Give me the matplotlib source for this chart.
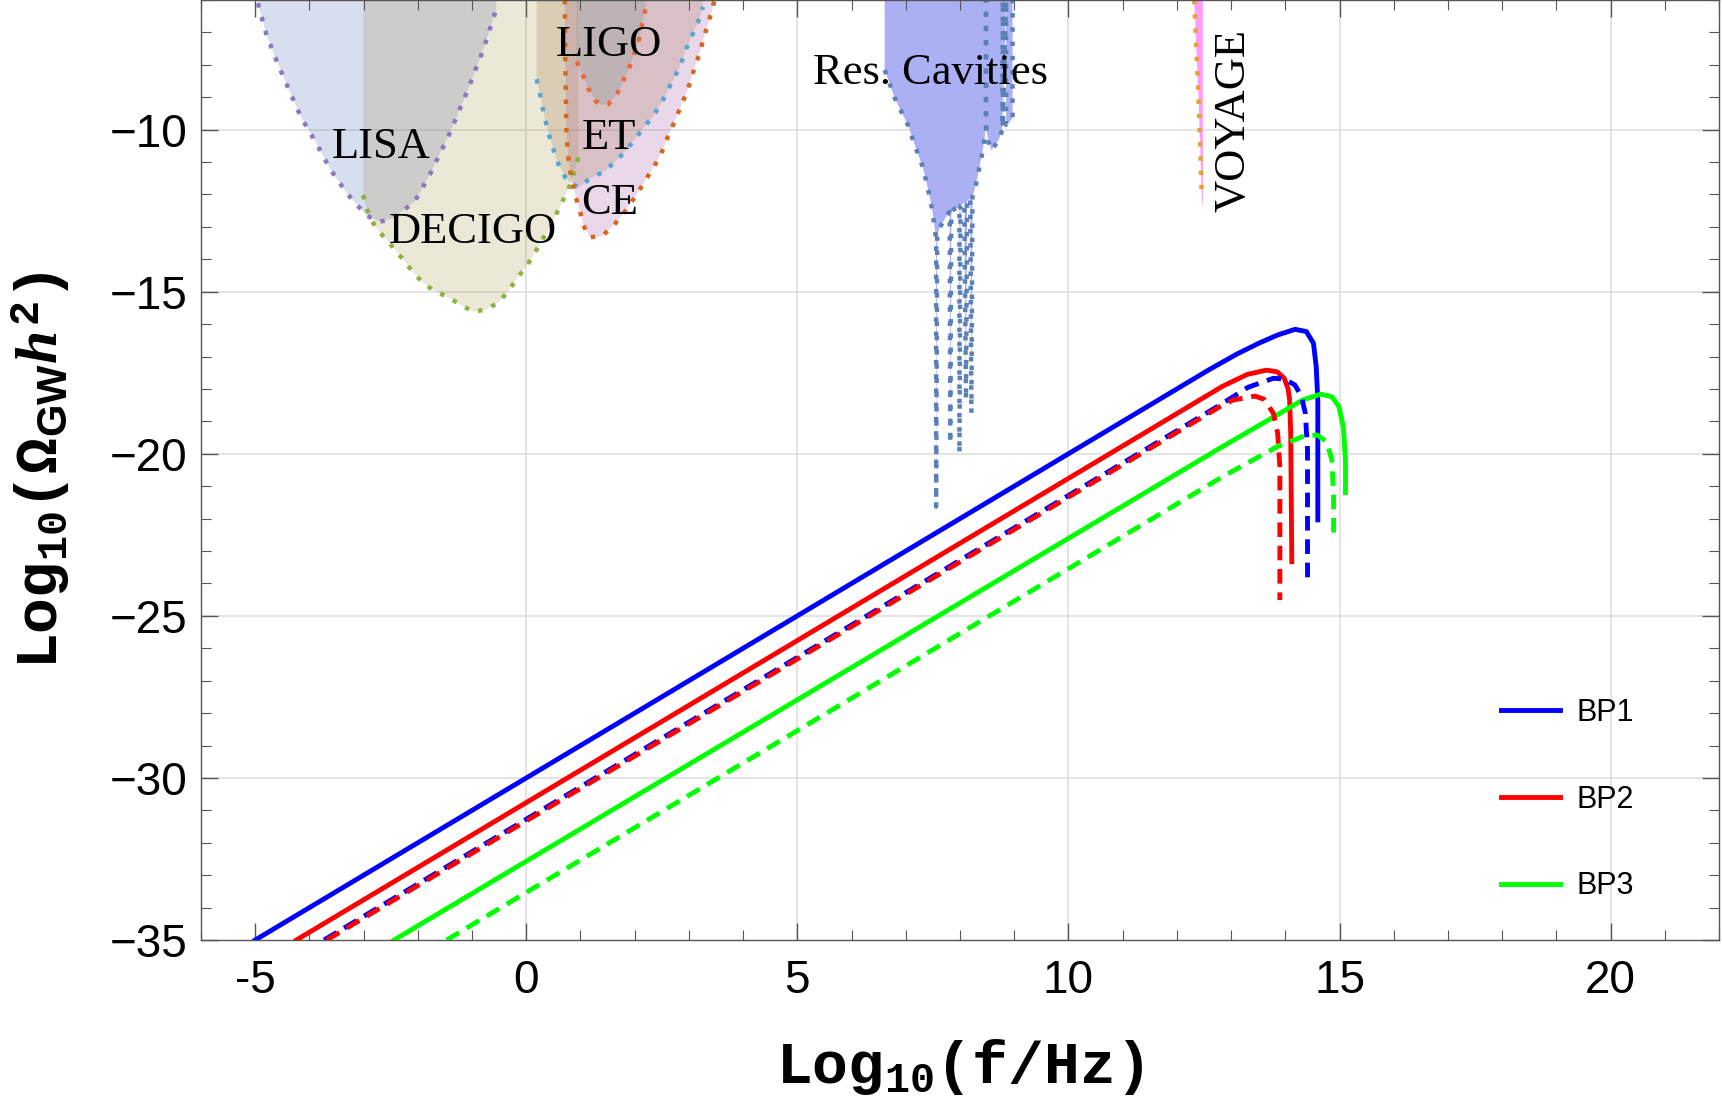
import numpy as np
import matplotlib
matplotlib.use('Agg')
import matplotlib.pyplot as plt
from matplotlib.lines import Line2D

plt.rcParams['mathtext.fontset'] = 'custom'
plt.rcParams['mathtext.rm'] = 'Liberation Mono:bold'
plt.rcParams['mathtext.bf'] = 'Liberation Mono:bold'
plt.rcParams['mathtext.it'] = 'Liberation Serif:italic:bold'
plt.rcParams['mathtext.sf'] = 'Liberation Sans:bold'

# ---- benchmark spectra, log10(f/Hz) vs log10(Omega h^2) ----
bp1_x = [-5.0, 12.6, 13.1, 13.51, 13.85, 14.18, 14.39, 14.52, 14.57, 14.60, 14.60]
bp1_y = [-35.0, -17.4, -16.93, -16.59, -16.34, -16.16, -16.23, -16.59, -17.31, -18.34, -22.04]
bp1d_x = [-3.73, 12.84, 13.31, 13.78, 13.98, 14.18, 14.30, 14.37, 14.41, 14.41]
bp1d_y = [-35.0, -18.45, -17.95, -17.67, -17.69, -17.88, -18.24, -18.75, -19.88, -23.98]

bp2_x = [-4.24, 12.84, 13.30, 13.65, 13.85, 13.98, 14.05, 14.08, 14.10, 14.12]
bp2_y = [-35.0, -17.92, -17.55, -17.42, -17.47, -17.67, -17.98, -18.34, -19.37, -23.33]
bp2d_x = [-3.68, 12.84, 13.04, 13.44, 13.61, 13.78, 13.86, 13.90, 13.90]
bp2d_y = [-35.0, -18.50, -18.34, -18.22, -18.32, -18.75, -19.37, -20.40, -24.51]

bp3_x = [-2.44, 12.84, 13.85, 14.32, 14.65, 14.86, 14.99, 15.07, 15.11, 15.11]
bp3_y = [-35.0, -19.78, -18.80, -18.34, -18.16, -18.24, -18.55, -19.17, -20.19, -21.20]
bp3d_x = [-1.47, 12.84, 13.85, 14.32, 14.59, 14.76, 14.86, 14.89, 14.89]
bp3d_y = [-35.0, -20.71, -19.78, -19.47, -19.42, -19.63, -20.19, -21.28, -22.56]

# ---- detector sensitivity curves ----
lisa_x = [-4.95, -4.80, -4.60, -4.38, -4.16, -3.88, -3.62, -3.31, -2.95, -2.70,
          -2.46, -2.06, -1.78, -1.42, -1.10, -0.80, -0.55]
lisa_y = [-6.10, -7.03, -7.90, -8.76, -9.60, -10.40, -11.21, -11.96, -12.65, -12.84,
          -12.74, -12.22, -11.39, -10.14, -8.86, -7.56, -6.26]

decigo_x = [-3.01, -2.93, -2.82, -2.65, -2.47, -2.29, -2.12, -1.93, -1.72, -1.47,
            -1.23, -0.98, -0.72, -0.50, -0.32, -0.15, 0.01, 0.16, 0.30, 0.45,
            0.56, 0.68, 0.80, 0.88, 0.96]
decigo_y = [-12.02, -12.50, -12.89, -13.27, -13.61, -13.97, -14.33, -14.69, -14.95, -15.15,
            -15.38, -15.62, -15.54, -15.31, -14.95, -14.54, -14.20, -13.79, -13.38, -12.99,
            -12.58, -12.17, -11.74, -11.33, -10.86]

et_x = [0.19, 0.25, 0.30, 0.36, 0.43, 0.51, 0.60, 0.73, 0.85, 0.96, 1.17, 1.42,
        1.63, 1.82, 2.00, 2.17, 2.34, 2.49, 2.61, 2.74, 2.86, 2.95, 3.06, 3.17, 3.26]
et_y = [-8.44, -8.88, -9.32, -9.77, -10.22, -10.66, -11.09, -11.50, -11.68, -11.78, -11.52, -11.30,
        -11.01, -10.68, -10.30, -9.93, -9.58, -9.19, -8.78, -8.37, -7.93, -7.51, -7.08, -6.67, -6.21]

ce_x = [0.71, 0.72, 0.74, 0.77, 0.82, 0.91, 0.99, 1.05, 1.17, 1.40, 1.62, 1.83, 2.09,
        2.25, 2.39, 2.51, 2.61, 2.72, 2.83, 2.94, 3.03, 3.11, 3.20, 3.27, 3.35, 3.43, 3.47]
ce_y = [-6.0, -8.0, -10.0, -10.8, -11.4, -12.07, -12.50, -12.94, -13.32, -13.28, -12.94, -12.50, -11.86,
        -11.42, -11.04, -10.65, -10.22, -9.81, -9.37, -8.93, -8.50, -8.06, -7.63, -7.18, -6.74, -6.29, -6.0]

ligo_x = [0.93, 1.04, 1.15, 1.28, 1.40, 1.51, 1.68, 1.80, 1.91, 2.00, 2.09, 2.14, 2.20]
ligo_y = [-7.90, -8.31, -8.75, -9.12, -9.24, -9.22, -8.88, -8.45, -8.04, -7.61, -7.16, -6.72, -6.26]

rc_x = [6.61, 6.70, 6.79, 6.92, 7.04, 7.13, 7.22, 7.31, 7.38, 7.44, 7.49, 7.53, 7.56,
        7.56, 7.58, 7.62, 7.72, 7.81, 7.82, 7.84, 7.90, 7.99, 7.99, 8.01, 8.08, 8.11,
        8.13, 8.19, 8.21, 8.23, 8.30, 8.36, 8.41, 8.45, 8.48, 8.48, 8.48, 8.52, 8.58,
        8.64, 8.72, 8.78, 8.79, 8.79, 8.85, 8.85, 8.92, 8.97, 8.97]
rc_y = [-8.16, -8.57, -9.00, -9.45, -9.86, -10.30, -10.73, -11.14, -11.61, -12.07, -12.50, -12.99, -13.41,
        -21.63, -13.30, -13.04, -12.75, -12.53, -19.68, -12.50, -12.45, -12.40, -19.99, -12.35, -12.25, -18.34,
        -12.20, -12.10, -18.75, -12.07, -11.66, -11.14, -10.73, -10.32, -9.91, -6.0, -9.91, -10.35, -10.63,
        -10.50, -10.30, -10.00, -6.0, -9.95, -6.0, -9.85, -9.75, -9.65, -6.0]

voy_x = [12.32, 12.36, 12.40, 12.43, 12.46]
voy_y = [-6.0, -7.5, -9.0, -10.5, -12.1]
voy_edge = 12.48
voy_low = -12.4

ytop = -6.0

fig = plt.figure(figsize=(17.22, 10.98), dpi=100)
ax = fig.add_axes([201 / 1722, 1 - 940 / 1098, 1518 / 1722, 940 / 1098])
ax.set_xlim(-6, 22)
ax.set_ylim(-35, -6)

dot = (0, (1.0, 2.2))
dot_lw = 3.2

# fills (semi transparent so overlaps darken)
ax.fill(lisa_x + [lisa_x[-1], lisa_x[0]], lisa_y + [ytop, ytop],
        color=(75 / 255, 105 / 255, 180 / 255), alpha=0.22, lw=0, zorder=1)
ax.fill([decigo_x[0]] + decigo_x + [decigo_x[-1]], [ytop] + decigo_y + [ytop],
        color=(160 / 255, 140 / 255, 60 / 255), alpha=0.2, lw=0, zorder=1)
ax.fill(ce_x, ce_y, color=(160 / 255, 80 / 255, 160 / 255), alpha=0.22, lw=0, zorder=1)
ax.fill([et_x[0]] + et_x + [et_x[-1]], [ytop] + et_y + [ytop],
        color=(147 / 255, 100 / 255, 47 / 255), alpha=0.2, lw=0, zorder=1)
ax.fill([ligo_x[0]] + ligo_x + [ligo_x[-1]], [ytop] + ligo_y + [ytop],
        color=(110 / 255, 140 / 255, 135 / 255), alpha=0.25, lw=0, zorder=1)
ax.fill([rc_x[0]] + rc_x + [rc_x[-1]], [ytop] + rc_y + [ytop],
        color='#abb0f4', lw=0, zorder=1)
ax.fill(voy_x + [voy_edge, voy_edge], voy_y + [voy_low, ytop],
        color='#ff9cff', lw=0, zorder=1)

# dotted outlines
ax.plot(lisa_x, lisa_y, color='#8c78be', lw=dot_lw, ls=dot, zorder=2)
ax.plot(decigo_x, decigo_y, color='#8db33a', lw=dot_lw, ls=dot, zorder=2)
ax.plot(et_x, et_y, color='#55a5d5', lw=dot_lw, ls=dot, zorder=2)
ax.plot(ce_x, ce_y, color='#d2691e', lw=dot_lw, ls=dot, zorder=2)
ax.plot(ligo_x, ligo_y, color='#f0643c', lw=dot_lw, ls=dot, zorder=2)
ax.plot(rc_x, rc_y, color='#5b80b5', lw=dot_lw, ls=dot, zorder=2)
ax.plot(voy_x, voy_y, color='#e8a030', lw=dot_lw, ls=dot, zorder=2)

# labels of the detectors
lab = dict(fontsize=32, family='Liberation Serif', ha='center', va='center', zorder=5)
ax.text(-2.67, -10.55, 'LISA', **lab)
ax.text(-0.99, -13.17, 'DECIGO', **lab)
ax.text(1.53, -7.38, 'LIGO', **lab)
ax.text(1.52, -10.27, 'ET', **lab)
ax.text(1.54, -12.27, 'CE', **lab)
ax.text(7.45, -8.24, 'Res. Cavities', **lab)
ax.text(13.04, -9.73, 'VOYAGE', rotation=90, **lab)

# benchmark curves
dash = (0, (3.0, 1.8))
lw = 3.5
ax.plot(bp1_x, bp1_y, color='#0000ff', lw=lw, zorder=4)
ax.plot(bp2_x, bp2_y, color='#ff0000', lw=lw, zorder=4)
ax.plot(bp3_x, bp3_y, color='#00ff00', lw=lw, zorder=4)
ax.plot(bp1d_x, bp1d_y, color='#0000ff', lw=lw, ls=dash, zorder=4)
ax.plot(bp2d_x, bp2d_y, color='#ff0000', lw=lw, ls=dash, zorder=4)
ax.plot(bp3d_x, bp3d_y, color='#00ff00', lw=lw, ls=dash, zorder=4)

handles = [Line2D([], [], color=c, lw=lw) for c in ['#0000ff', '#ff0000', '#00ff00']]
leg = ax.legend(handles, ['BP1', 'BP2', 'BP3'], loc='lower right',
                bbox_to_anchor=(0.962, 0.012), frameon=False,
                prop={'family': 'Liberation Sans', 'size': 22},
                handlelength=1.9, handletextpad=0.55, labelspacing=1.85)

# ticks, grid, frame
xmaj = [-5, 0, 5, 10, 15, 20]
xlabels = ['-5', '0', '5', '10', '15', '20']
ymaj = [-35, -30, -25, -20, -15, -10]
ylabels = ['\u2212' + str(abs(v)) for v in ymaj]
ax.set_xticks(xmaj)
ax.set_xticklabels(xlabels, family='Liberation Sans', fontsize=33)
ax.set_yticks(ymaj)
ax.set_yticklabels(ylabels, family='Liberation Sans', fontsize=33)
ax.set_xticks(np.arange(-6, 23, 1), minor=True)
ax.set_yticks(np.arange(-35, -5, 1), minor=True)
ax.tick_params(which='both', direction='in', top=True, right=True, color='#555555')
ax.tick_params(which='major', length=12, width=1.0)
ax.tick_params(which='minor', length=7, width=0.8)
ax.tick_params(axis='x', which='major', pad=14)
ax.tick_params(axis='y', which='major', pad=10)

for gx in [0, 5, 10, 15, 20]:
    ax.axvline(gx, color='#dcdcdc', lw=1.1, zorder=0)
for gy in [-30, -25, -20, -15, -10]:
    ax.axhline(gy, color='#dcdcdc', lw=1.1, zorder=0)
for s in ax.spines.values():
    s.set_color('#555555')
    s.set_linewidth(1.0)

ax.set_xlabel(r'$\mathrm{Log_{10}(f/Hz)}$', fontsize=43, labelpad=24)
ax.set_ylabel(r'$\mathrm{Log_{10}(\Omega_{\mathsf{GW}}}h^{2}\mathrm{)}$', fontsize=43, labelpad=27)

fig.savefig('out.png', dpi=100)
